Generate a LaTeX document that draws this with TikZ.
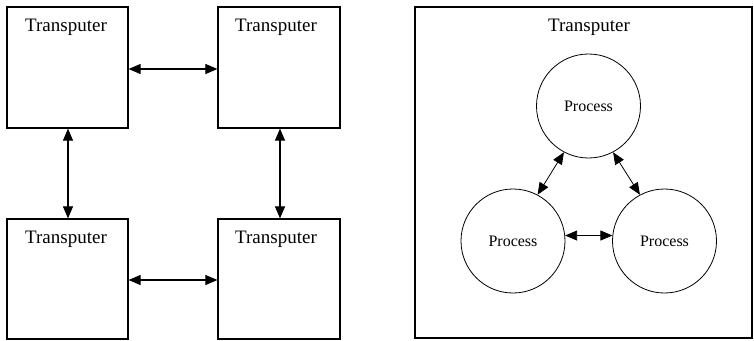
\documentclass[tikz,border=0pt]{standalone}
\usepackage{fontspec}
\setmainfont{Liberation Serif}
\usetikzlibrary{arrows.meta}
\begin{document}
\begin{tikzpicture}[x=1pt,y=-1pt,
  box/.style={draw,line width=1.2pt,inner sep=0pt},
  proc/.style={draw,circle,line width=0.8pt,minimum size=104pt,inner sep=0pt,font=\fontsize{16}{18}\selectfont},
  title/.style={font=\fontsize{19}{22}\selectfont,inner sep=0pt,anchor=base},
  tip/.tip={Triangle[length=12pt,width=10pt]},
  link/.style={line width=1.1pt,tip-tip},
  plink/.style={line width=0.8pt,tip-tip}]
\useasboundingbox (0,0) rectangle (754,340);
\fill[white] (0,0) rectangle (754,340);

% four linked transputers
\node[box,minimum width=121pt,minimum height=121pt] (tl) at (67.5,67.5) {};
\node[box,minimum width=122pt,minimum height=121pt] (tr) at (279,67.5) {};
\node[box,minimum width=121pt,minimum height=120pt] (bl) at (67.5,279) {};
\node[box,minimum width=122pt,minimum height=120pt] (br) at (279,279) {};
\node[title] (tlt) at (66,31) {Transputer};
\node[title] (trt) at (276,31) {Transputer};
\node[title] (blt) at (66,243) {Transputer};
\node[title] (brt) at (276,243) {Transputer};

\draw[link] (tl.east |- 0,69) -- (tr.west |- 0,69);
\draw[link] (bl.east |- 0,280) -- (br.west |- 0,280);
\draw[link] (tl.south -| 68,0) -- (bl.north -| 68,0);
\draw[link] (tr.south -| 280,0) -- (br.north -| 280,0);

% one transputer running three processes
\node[box,minimum width=337pt,minimum height=331pt] (big) at (583.5,172.5) {};
\node[title] (bigt) at (589,31) {Transputer};
\node[proc] (pt) at (588.5,106) {Process};
\node[proc] (pl) at (513,241) {Process};
\node[proc] (pr) at (664.5,241) {Process};

\draw[plink] (pt.-118) -- (pl.62);
\draw[plink] (pt.-62) -- (pr.118);
\draw[plink] (pl.6) -- (pr.174);
\end{tikzpicture}
\end{document}
